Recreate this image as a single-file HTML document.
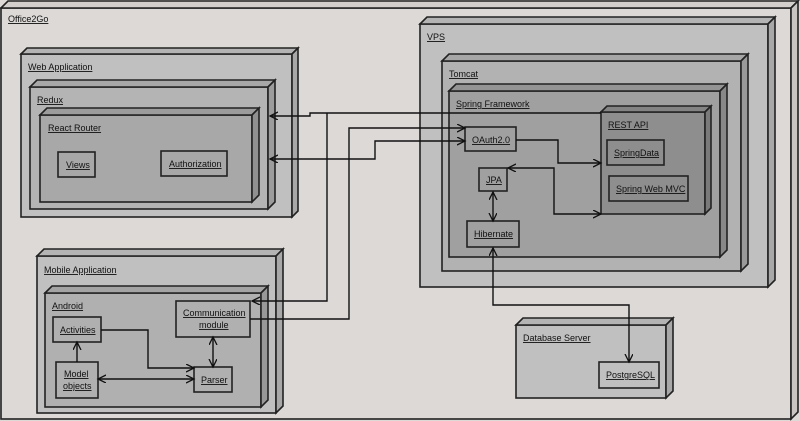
<!DOCTYPE html>
<html><head><meta charset="utf-8"><style>
html,body{margin:0;padding:0;background:#dcd9d7;}
svg{display:block}
text{font-family:"Liberation Sans","DejaVu Sans",sans-serif;font-size:9px;fill:#111;text-decoration:underline}
.f{stroke:#222;stroke-width:1.6}
.l{fill:none;stroke:#111;stroke-width:1.4}
</style></head><body>
<svg width="800" height="421" viewBox="0 0 800 421" xmlns="http://www.w3.org/2000/svg">
<defs>
<marker id="a" markerWidth="10" markerHeight="10" refX="8" refY="4" orient="auto-start-reverse" markerUnits="userSpaceOnUse">
<path d="M0,0 L8,4 L0,8" fill="none" stroke="#111" stroke-width="1.3"/></marker>
</defs>
<!-- Office2Go -->
<rect x="1" y="8" width="790" height="411" fill="#dcd9d7" class="f"/>
<polygon points="1,8 8,1 798,1 791,8" fill="#d2cfcd" class="f"/>
<polygon points="791,8 798,1 798,412 791,419" fill="#c8c5c3" class="f"/>
<text x="8" y="22">Office2Go</text>

<!-- Web Application -->
<rect x="21" y="54" width="271" height="163" fill="#c0c0c0" class="f"/>
<polygon points="21,54 27,48 298,48 292,54" fill="#b4b4b4" class="f"/>
<polygon points="292,54 298,48 298,211 292,217" fill="#a8a8a8" class="f"/>
<text x="28" y="70">Web Application</text>
<rect x="30" y="87" width="238" height="122" fill="#b4b4b4" class="f"/>
<polygon points="30,87 37,80 275,80 268,87" fill="#a8a8a8" class="f"/>
<polygon points="268,87 275,80 275,202 268,209" fill="#9c9c9c" class="f"/>
<text x="37" y="103">Redux</text>
<rect x="40" y="115" width="212" height="87" fill="#a8a8a8" class="f"/>
<polygon points="40,115 47,108 259,108 252,115" fill="#9c9c9c" class="f"/>
<polygon points="252,115 259,108 259,195 252,202" fill="#909090" class="f"/>
<text x="48" y="131">React Router</text>
<rect x="58" y="152" width="37" height="25" fill="#a8a8a8" class="f"/>
<text x="66" y="168">Views</text>
<rect x="161" y="151" width="66" height="25" fill="#a8a8a8" class="f"/>
<text x="169" y="167">Authorization</text>

<!-- Mobile Application -->
<rect x="37" y="256" width="239" height="157" fill="#c0c0c0" class="f"/>
<polygon points="37,256 44,249 283,249 276,256" fill="#b4b4b4" class="f"/>
<polygon points="276,256 283,249 283,406 276,413" fill="#a8a8a8" class="f"/>
<text x="44" y="273">Mobile Application</text>
<rect x="45" y="293" width="216" height="114" fill="#b0b0b0" class="f"/>
<polygon points="45,293 52,286 268,286 261,293" fill="#a4a4a4" class="f"/>
<polygon points="261,293 268,286 268,400 261,407" fill="#989898" class="f"/>
<text x="52" y="309">Android</text>
<rect x="176" y="301" width="74" height="36" fill="#b0b0b0" class="f"/>
<text x="183" y="316">Communication</text>
<text x="199" y="328">module</text>
<rect x="53" y="317" width="48" height="25" fill="#b0b0b0" class="f"/>
<text x="60" y="333">Activities</text>
<rect x="56" y="362" width="42" height="36" fill="#b0b0b0" class="f"/>
<text x="64" y="377">Model</text>
<text x="63" y="389">objects</text>
<rect x="194" y="367" width="38" height="25" fill="#b0b0b0" class="f"/>
<text x="201" y="383">Parser</text>

<!-- VPS -->
<rect x="420" y="24" width="348" height="263" fill="#c0c0c0" class="f"/>
<polygon points="420,24 427,17 775,17 768,24" fill="#b4b4b4" class="f"/>
<polygon points="768,24 775,17 775,280 768,287" fill="#a8a8a8" class="f"/>
<text x="427" y="40">VPS</text>
<rect x="442" y="61" width="299" height="210" fill="#b2b2b2" class="f"/>
<polygon points="442,61 449,54 748,54 741,61" fill="#a6a6a6" class="f"/>
<polygon points="741,61 748,54 748,264 741,271" fill="#9a9a9a" class="f"/>
<text x="449" y="77">Tomcat</text>
<rect x="449" y="91" width="271" height="166" fill="#a0a0a0" class="f"/>
<polygon points="449,91 456,84 727,84 720,91" fill="#949494" class="f"/>
<polygon points="720,91 727,84 727,250 720,257" fill="#888" class="f"/>
<text x="456" y="107">Spring Framework</text>
<rect x="601" y="112" width="104" height="102" fill="#8e8e8e" class="f"/>
<polygon points="601,112 607,106 711,106 705,112" fill="#848484" class="f"/>
<polygon points="705,112 711,106 711,208 705,214" fill="#7a7a7a" class="f"/>
<text x="608" y="128">REST API</text>
<rect x="607" y="140" width="57" height="25" fill="#8e8e8e" class="f"/>
<text x="614" y="156">SpringData</text>
<rect x="609" y="176" width="79" height="25" fill="#8e8e8e" class="f"/>
<text x="616" y="192">Spring Web MVC</text>
<rect x="465" y="127" width="51" height="24" fill="#a0a0a0" class="f"/>
<text x="472" y="143">OAuth2.0</text>
<rect x="479" y="168" width="28" height="23" fill="#a0a0a0" class="f"/>
<text x="486" y="183">JPA</text>
<rect x="467" y="221" width="52" height="26" fill="#a0a0a0" class="f"/>
<text x="474" y="237">Hibernate</text>

<!-- Database Server -->
<rect x="516" y="325" width="150" height="73" fill="#c0c0c0" class="f"/>
<polygon points="516,325 523,318 673,318 666,325" fill="#b4b4b4" class="f"/>
<polygon points="666,325 673,318 673,391 666,398" fill="#a8a8a8" class="f"/>
<text x="523" y="341">Database Server</text>
<rect x="599" y="362" width="60" height="26" fill="#c0c0c0" class="f"/>
<text x="606" y="378">PostgreSQL</text>

<!-- connectors -->
<polyline class="l" points="601,113 310,113 310,116 270,116" marker-end="url(#a)"/>
<polyline class="l" points="327,113 327,301 252,301" marker-end="url(#a)"/>
<polyline class="l" points="250,319 349,319 349,128 465,128" marker-end="url(#a)"/>
<polyline class="l" points="465,141 375,141 375,159 270,159" marker-start="url(#a)" marker-end="url(#a)"/>
<polyline class="l" points="516,140 558,140 558,163 601,163" marker-end="url(#a)"/>
<polyline class="l" points="508,168 554,168 554,214 601,214" marker-start="url(#a)" marker-end="url(#a)"/>
<polyline class="l" points="493,192 493,221" marker-start="url(#a)" marker-end="url(#a)"/>
<polyline class="l" points="493,248 493,305 629,305 629,362" marker-start="url(#a)" marker-end="url(#a)"/>
<polyline class="l" points="101,330 148,330 148,368 194,368" marker-end="url(#a)"/>
<polyline class="l" points="77,362 77,342" marker-end="url(#a)"/>
<polyline class="l" points="98,379 194,379" marker-start="url(#a)" marker-end="url(#a)"/>
<polyline class="l" points="213,337 213,367" marker-start="url(#a)" marker-end="url(#a)"/>
</svg>
</body></html>
